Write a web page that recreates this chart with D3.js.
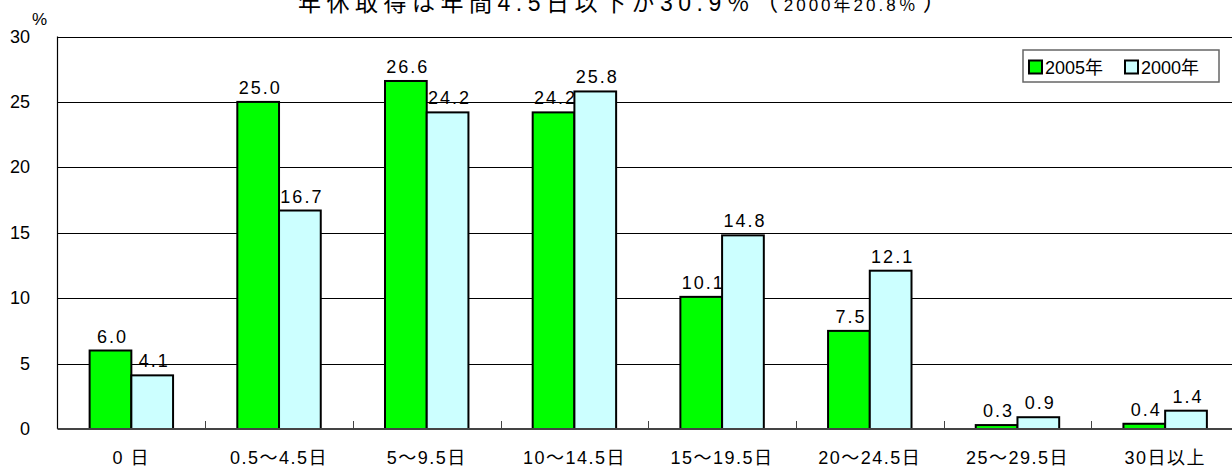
<!DOCTYPE html>
<html>
<head>
<meta charset="utf-8">
<script src="https://cdn.jsdelivr.net/npm/d3@7"></script>
<style>
  html, body { margin: 0; padding: 0; background: #fff; overflow: hidden; }
  svg { display: block; }
  text { font-family: "Liberation Sans", Arial, "Noto Sans CJK JP", sans-serif; fill: #000; }
</style>
</head>
<body>
<svg id="chart" width="1232" height="470"></svg>
<script>
// 年休取得日数の分布（%）
const categories = ["0 日", "0.5～4.5日", "5～9.5日", "10～14.5日", "15～19.5日", "20～24.5日", "25～29.5日", "30日以上"];
const seriesNames = ["2005年", "2000年"];
const values2005 = [6.0, 25.0, 26.6, 24.2, 10.1, 7.5, 0.3, 0.4];
const values2000 = [4.1, 16.7, 24.2, 25.8, 14.8, 12.1, 0.9, 1.4];
const yTicks = [0, 5, 10, 15, 20, 25, 30];
const seriesColors = ["#00ff00", "#ccffff"];

const svg = d3.select("#chart");
const plot = { left: 57.5, top: 36.5, right: 1239, bottom: 429 };

const x0 = d3.scaleBand()
  .domain(categories)
  .range([plot.left, plot.right])
  .paddingInner(0.435)
  .paddingOuter(0.2175);
const x1 = d3.scaleBand()
  .domain(seriesNames)
  .range([0, x0.bandwidth()]);
const y = d3.scaleLinear().domain([0, 30]).range([plot.bottom, plot.top]);

const step = x0.step();
const catLeft = c => x0(c) - step * x0.paddingOuter();

// gridlines
svg.append("g")
  .selectAll("line")
  .data(yTicks.filter(t => t > 0))
  .join("line")
  .attr("x1", plot.left).attr("x2", 1232)
  .attr("y1", d => Math.round(y(d)) + 0.5).attr("y2", d => Math.round(y(d)) + 0.5)
  .attr("stroke", "#000").attr("stroke-width", 1);

// left axis line
svg.append("line")
  .attr("x1", plot.left).attr("x2", plot.left)
  .attr("y1", plot.top).attr("y2", plot.bottom)
  .attr("stroke", "#000").attr("stroke-width", 1.2);

// y tick labels
svg.append("g")
  .selectAll("text")
  .data(yTicks)
  .join("text")
  .attr("x", 30)
  .attr("y", d => y(d) + 6)
  .attr("text-anchor", "end")
  .attr("font-size", 18)
  .text(d => d);

svg.append("text")
  .attr("x", 32).attr("y", 25)
  .attr("font-size", 17)
  .text("%");

const rows = categories.map((c, i) => ({ cat: c, vals: [values2005[i], values2000[i]] }));

// bars
const groups = svg.append("g")
  .selectAll("g")
  .data(rows)
  .join("g")
  .attr("transform", d => `translate(${x0(d.cat)},0)`);

groups.selectAll("rect")
  .data(d => d.vals.map((v, j) => ({ key: seriesNames[j], v, j })))
  .join("rect")
  .attr("x", d => x1(d.key))
  .attr("y", d => y(d.v))
  .attr("width", x1.bandwidth())
  .attr("height", d => y(0) - y(d.v))
  .attr("fill", d => seriesColors[d.j])
  .attr("stroke", "#000")
  .attr("stroke-width", 2);

groups.selectAll("text")
  .data(d => d.vals.map((v, j) => ({ key: seriesNames[j], v, j })))
  .join("text")
  .attr("x", d => x1(d.key) + x1.bandwidth() / 2 + 2)
  .attr("y", d => y(d.v) - 8)
  .attr("text-anchor", "middle")
  .attr("font-size", 18)
  .attr("letter-spacing", 2)
  .text(d => d.v.toFixed(1));

// x axis
svg.append("line")
  .attr("x1", plot.left).attr("x2", 1232)
  .attr("y1", plot.bottom).attr("y2", plot.bottom)
  .attr("stroke", "#444").attr("stroke-width", 2);

svg.append("g")
  .selectAll("line")
  .data(categories.slice(1))
  .join("line")
  .attr("x1", d => Math.round(catLeft(d)) + 0.5)
  .attr("x2", d => Math.round(catLeft(d)) + 0.5)
  .attr("y1", plot.bottom - 8).attr("y2", plot.bottom)
  .attr("stroke", "#444").attr("stroke-width", 1);

svg.append("g")
  .selectAll("text")
  .data(categories)
  .join("text")
  .attr("x", d => x0(d) + x0.bandwidth() / 2)
  .attr("y", 464)
  .attr("text-anchor", "middle")
  .attr("font-size", 18)
  .attr("letter-spacing", 1.5)
  .text(d => d);

// title
const title = svg.append("text")
  .attr("x", 298).attr("y", 11)
  .attr("font-size", 23)
  .attr("letter-spacing", 5.5);
title.append("tspan").text("年休取得は年間4.5日以下が30.9％");
title.append("tspan").attr("dx", 0).text("（");
title.append("tspan").attr("font-size", 17).attr("letter-spacing", 3).text("2000年20.8％");
title.append("tspan").attr("dx", 4).text("）");

// legend
const lg = svg.append("g").attr("transform", "translate(1023,50)");
lg.append("rect")
  .attr("width", 196).attr("height", 32)
  .attr("fill", "#fff").attr("stroke", "#666").attr("stroke-width", 1.5);
const legendX = [6, 102];
seriesNames.forEach((name, j) => {
  lg.append("rect")
    .attr("x", legendX[j]).attr("y", 10.5)
    .attr("width", 13).attr("height", 13)
    .attr("fill", seriesColors[j]).attr("stroke", "#000").attr("stroke-width", 2);
  lg.append("text")
    .attr("x", legendX[j] + 16).attr("y", 24)
    .attr("font-size", 18)
    .text(name);
});
</script>
</body>
</html>
